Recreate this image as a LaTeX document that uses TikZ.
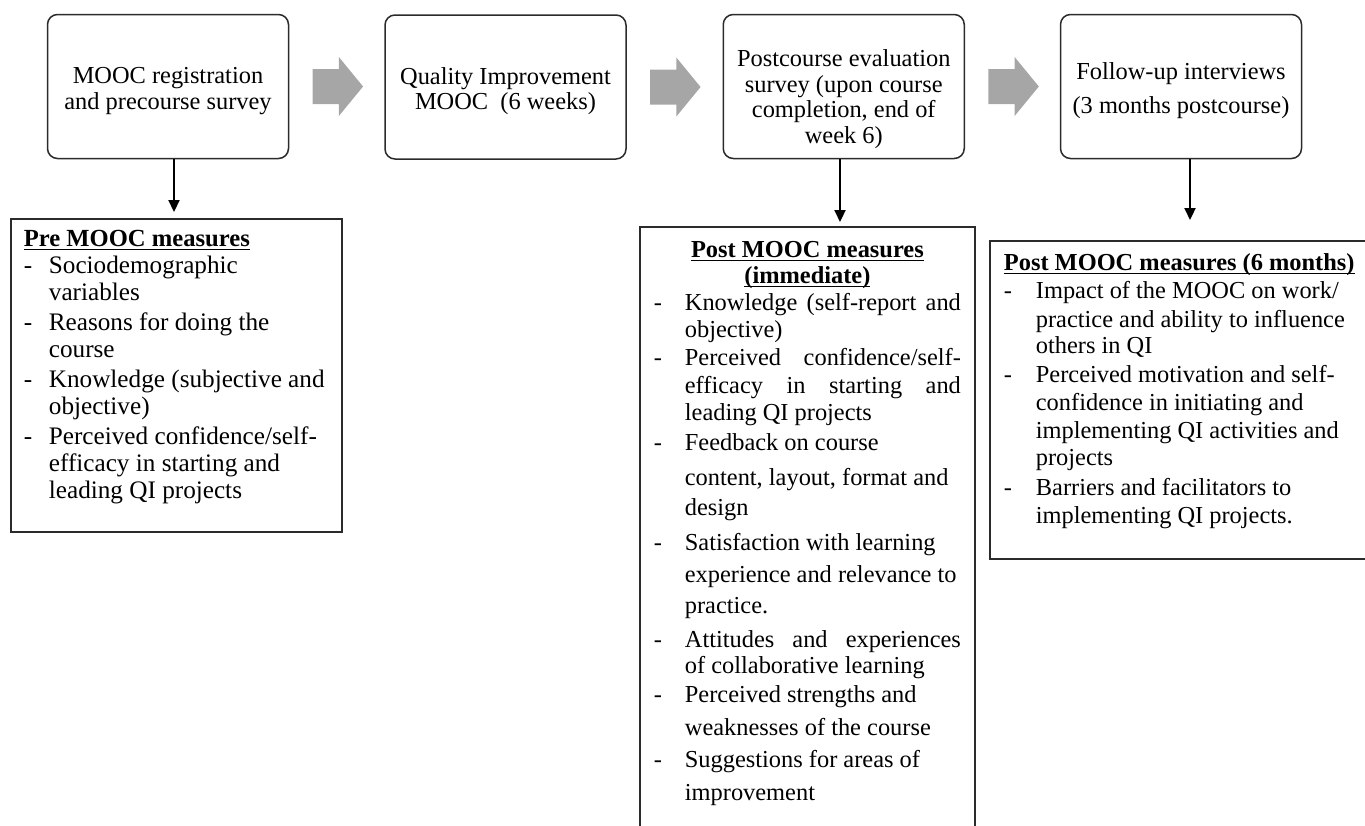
\documentclass[tikz,border=0pt]{standalone}
\usepackage{fontspec}
\setmainfont{Liberation Serif}
\usepackage{tikz}
\usetikzlibrary{arrows.meta,calc}
\definecolor{figgrey}{HTML}{A6A6A6}
\definecolor{figline}{HTML}{2B2B2B}
\newlength{\dashw}
\newlength{\headw}
\newcommand{\mitem}[1]{\makebox[\dashw][l]{-}#1}
\newcommand{\mcont}[1]{\hspace*{\dashw}#1}
\newcommand{\mjust}[1]{\makebox[\dimexpr\linewidth-\dashw\relax][s]{#1}}
\newcommand{\mhead}[1]{\settowidth{\headw}{\textbf{#1}}\rlap{\rule[-1.6pt]{\headw}{0.6pt}}\textbf{#1}}

\begin{document}
\begin{tikzpicture}[x=0.5pt,y=-0.5pt,
  stagebox/.style={draw=figline, line width=0.75pt, rounded corners=5pt,
    minimum width=120.5pt, minimum height=72pt, align=center, inner sep=0pt,
    font=\fontsize{12.2}{12.7}\selectfont},
  measbox/.style={draw=figline, line width=0.9pt, anchor=north west,
    inner xsep=7pt, inner ysep=0pt, font=\fontsize{12.2}{13.5}\selectfont},
  downarr/.style={line width=1.1pt, -{Triangle[length=6pt,width=5.5pt]}},
  grayarr/.style={fill=figgrey, draw=none}]
\useasboundingbox (0,0) rectangle (1365,825);

% stages of the study
\node[stagebox] (reg) at (168,86.5) {\rule{0pt}{12.5pt}MOOC registration\\and precourse survey};
\node[stagebox] (qim) at (505.5,87) {\rule{0pt}{12.5pt}Quality Improvement\\MOOC\ \ (6 weeks)};
\node[stagebox] (post) at (843.75,86.5) {\rule{0pt}{21pt}Postcourse evaluation\\survey (upon course\\completion, end of\\week 6)};
\node[stagebox] (fup) at (1181,86.5) {\rule{0pt}{12.5pt}Follow-up interviews\\[4pt](3 months postcourse)};

% grey block arrows between the stages
\foreach \a in {reg,qim,post}
  \fill[grayarr] ($(\a.east)+(23.3,0)$) -- ++(0,-17.5) -- ++(26.3,0) -- ++(0,-12)
    -- ++(24.2,29.5) -- ++(-24.2,29.5) -- ++(0,-12) -- ++(-26.3,0) -- cycle;

% measures
\node[measbox, inner xsep=6.5pt, font=\fontsize{12.6}{13.5}\selectfont] (pre) at (10,218) {\begin{minipage}[t][156.5pt][t]{152.5pt}\raggedright\setlength{\dashw}{12.5pt}%
\rule{0pt}{14pt}{\fontsize{12.3}{13.5}\selectfont\mhead{Pre MOOC measures}}\\
\mitem{Sociodemographic}\\
\mcont{variables}\\[1.5pt]
\mitem{Reasons for doing the}\\
\mcont{course}\\[1.5pt]
\mitem{Knowledge (subjective and}\\
\mcont{objective)}\\[1.5pt]
\mitem{Perceived confidence/self-}\\
\mcont{efficacy in starting and}\\
\mcont{leading QI projects}
\end{minipage}};

\node[measbox] (postm) at (639,226) {\begin{minipage}[t][304.5pt][t]{153.5pt}\raggedright\setlength{\dashw}{15.5pt}%
\rule{0pt}{15.5pt}\makebox[\linewidth]{\mhead{Post MOOC measures}}\\[-0.5pt]
\makebox[\linewidth]{\mhead{(immediate)}}\\
\mitem{\mjust{Knowledge (self-report and}}\\
\mcont{objective)}\\[0.5pt]
\mitem{\mjust{Perceived confidence/self-}}\\[0.5pt]
\mcont{\mjust{efficacy in starting and}}\\
\mcont{leading QI projects}\\[1.5pt]
\mitem{Feedback on course}\\[4pt]
\mcont{content, layout, format and}\\[1.5pt]
\mcont{design}\\[4pt]
\mitem{Satisfaction with learning}\\[2.5pt]
\mcont{experience and relevance to}\\[2pt]
\mcont{practice.}\\[3.5pt]
\mitem{\mjust{Attitudes and experiences}}\\[-0.5pt]
\mcont{of collaborative learning}\\[1pt]
\mitem{Perceived strengths and}\\[3pt]
\mcont{weaknesses of the course}\\[2.5pt]
\mitem{Suggestions for areas of}\\[3pt]
\mcont{improvement}
\end{minipage}};

\node[measbox] (sixm) at (989,240) {\begin{minipage}[t][159pt][t]{179pt}\raggedright\setlength{\dashw}{16pt}%
\rule{0pt}{15pt}\mhead{Post MOOC measures (6 months)}\\[0.5pt]
\mitem{Impact of the MOOC on work/}\\[1pt]
\mcont{practice and ability to influence}\\[-0.5pt]
\mcont{others in QI}\\[1pt]
\mitem{Perceived motivation and self-}\\[0.5pt]
\mcont{confidence in initiating and}\\[0.5pt]
\mcont{implementing QI activities and}\\
\mcont{projects}\\[1.5pt]
\mitem{Barriers and facilitators to}\\[0.5pt]
\mcont{implementing QI projects.}
\end{minipage}};

% arrows down to the measures
\coordinate (pretip) at (174,212);
\coordinate (posttip) at (840,222);
\coordinate (sixtip) at (1190,220);
\draw[downarr] (reg.south -| pretip) -- (pretip);
\draw[downarr] (post.south -| posttip) -- (posttip);
\draw[downarr] (fup.south -| sixtip) -- (sixtip);
\end{tikzpicture}
\end{document}
